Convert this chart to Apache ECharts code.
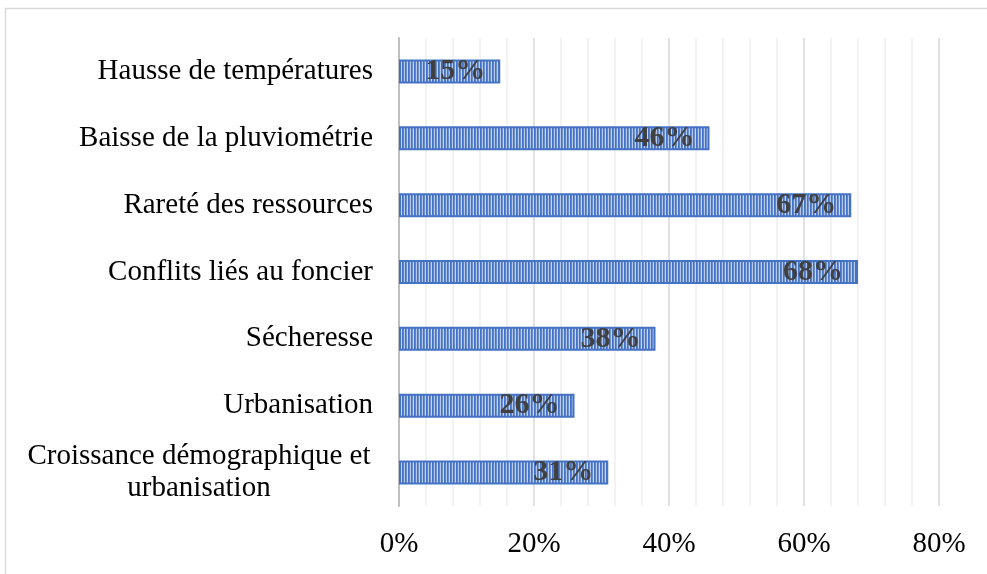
<!DOCTYPE html>
<html>
<head>
<meta charset="utf-8">
<script src="https://cdn.jsdelivr.net/npm/echarts@6/dist/echarts.min.js"></script>
<style>html,body{margin:0;padding:0;background:#fff;}#c{width:987px;height:574px;}</style>
</head>
<body>
<div id="c"></div>
<script>
const categories = [
  'Hausse de températures',
  'Baisse de la pluviométrie',
  'Rareté des ressources',
  'Conflits liés au foncier',
  'Sécheresse',
  'Urbanisation',
  'Croissance démographique et\nurbanisation'
];
const values = [15, 46, 67, 68, 38, 26, 31];
const tickValues = [0, 20, 40, 60, 80];

const cv = document.createElement('canvas');
cv.width = 6; cv.height = 4;
const cx = cv.getContext('2d');
const cols = ['#4472C4', '#5b84cc', '#b7c9ea', '#4472C4', '#6a8fd2', '#c6d5f0'];
cols.forEach((c, i) => { cx.fillStyle = c; cx.fillRect(i, 0, 1, 4); });

const chart = echarts.init(document.getElementById('c'));
chart.setOption({
  animation: false,
  backgroundColor: '#fff',
  textStyle: { fontFamily: 'Liberation Serif' },
  graphic: [{
    type: 'rect', silent: true, z: -1,
    shape: { x: 5.5, y: 8.5, width: 1000, height: 600 },
    style: { fill: 'none', stroke: '#d9d9d9', lineWidth: 1.5 }
  }],
  grid: { left: 399, right: 48, top: 38, bottom: 68 },
  xAxis: {
    type: 'value', min: 0, max: 80, interval: 20,
    axisLine: { show: false }, axisTick: { show: false },
    axisLabel: { formatter: v => tickValues.includes(v) ? v + '%' : '', fontSize: 29, color: '#000', margin: 24, fontFamily: 'Liberation Serif' },
    splitLine: { show: true, lineStyle: { color: '#d9d9d9', width: 1.5 } },
    minorTick: { show: false, splitNumber: 5 },
    minorSplitLine: { show: true, lineStyle: { color: '#eeeeee', width: 1.5 } }
  },
  yAxis: {
    type: 'category', data: categories, inverse: true,
    axisLine: { show: true, lineStyle: { color: '#bfbfbf', width: 2 } },
    axisTick: { show: false },
    axisLabel: {
      fontSize: 29, color: '#000', margin: 26, fontFamily: 'Liberation Serif', lineHeight: 32,
      formatter: v => v.indexOf('\n') >= 0 ? '{c|' + v + '}' : v,
      rich: { c: { width: 348, align: 'center', fontSize: 29, lineHeight: 32, fontFamily: 'Liberation Serif', color: '#000' } }
    }
  },
  series: [{
    type: 'bar', data: values, barWidth: 24,
    itemStyle: { color: { image: cv, repeat: 'repeat' }, borderColor: '#4472C4', borderWidth: 2 },
    label: {
      show: true, position: 'insideRight', distance: 15,
      formatter: p => p.value + '%',
      fontSize: 30, fontWeight: 'bold', color: '#404040', fontFamily: 'Liberation Serif'
    }
  }]
});
</script>
</body>
</html>
